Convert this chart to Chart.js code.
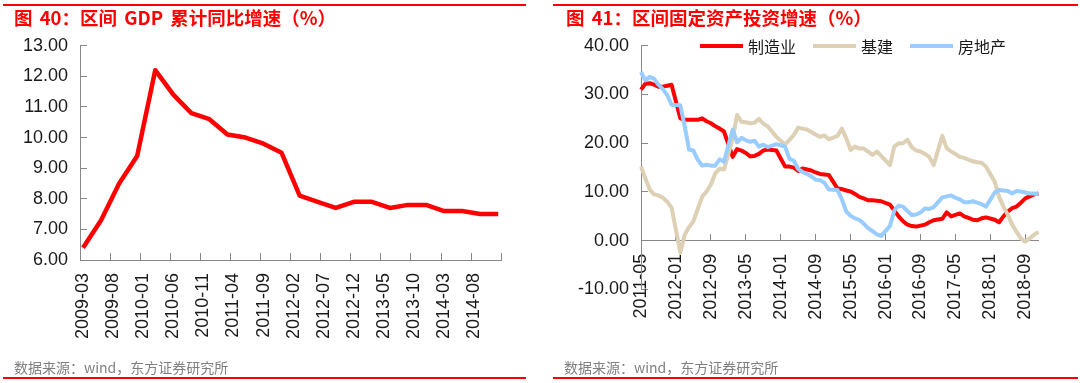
<!DOCTYPE html>
<html lang="zh-CN">
<head>
<meta charset="utf-8">
<title>区间 GDP 累计同比增速 / 区间固定资产投资增速</title>
<script src="https://cdn.jsdelivr.net/npm/chart.js@4.4.1/dist/chart.umd.min.js"></script>
<style>
  body { margin: 0; background: #fff; }
  #lienzo { position: relative; width: 1080px; height: 383px; overflow: hidden; }
  .panel { position: absolute; top: 0; width: 540px; height: 383px; }
  .panel canvas { position: absolute; left: 0; top: 0; }
  .raya { position: absolute; height: 2px; background: #ff0000; }
  .titulo { position: absolute; top: 7px; margin: 0; font: bold 18.5px/20px "Noto Sans CJK SC", sans-serif; word-spacing: 3px; color: #ff0000; white-space: nowrap; }
  .fuente { position: absolute; top: 359px; margin: 0; font: 14px/16px "Noto Sans CJK SC", sans-serif; color: #808080; white-space: nowrap; }
  .leyenda { position: absolute; top: 36px; display: flex; align-items: center; font: 16px/20px "Noto Sans CJK SC", sans-serif; color: #1a1a1a; white-space: nowrap; }
  .leyenda .linea { display: inline-block; width: 43px; height: 4px; margin-right: 5px; }
  .leyenda .texto { margin-right: 17px; }
</style>
</head>
<body>
<div id="lienzo">
  <div class="panel" style="left:0">
    <canvas id="grafica_gdp" width="540" height="383"></canvas>
    <div class="raya" style="left:3px; width:523px; top:4px"></div>
    <p class="titulo" style="left:14px">图 40：区间 GDP 累计同比增速（%）</p>
    <p class="fuente" style="left:14px">数据来源：wind，东方证券研究所</p>
    <div class="raya" style="left:3px; width:523px; top:377px"></div>
  </div>
  <div class="panel" style="left:540px">
    <canvas id="grafica_fai" width="540" height="383"></canvas>
    <div class="raya" style="left:13px; width:525px; top:4px"></div>
    <p class="titulo" style="left:26px">图 41：区间固定资产投资增速（%）</p>
    <div class="leyenda" id="leyenda_fai" style="left:160px"></div>
    <p class="fuente" style="left:24px">数据来源：wind，东方证券研究所</p>
    <div class="raya" style="left:13px; width:525px; top:377px"></div>
  </div>
</div>
<script>
// 图40 GDP 累计同比（季度）
let gdpFechas = ['2009-03','2009-06','2009-09','2009-12','2010-03','2010-06','2010-09','2010-12',
  '2011-03','2011-06','2011-09','2011-12','2012-03','2012-06','2012-09','2012-12',
  '2013-03','2013-06','2013-09','2013-12','2014-03','2014-06','2014-09','2014-12'];
let gdpValores = [6.4, 7.3, 8.5, 9.4, 12.2, 11.4, 10.8, 10.6,
  10.1, 10.0, 9.8, 9.5, 8.1, 7.9, 7.7, 7.9,
  7.9, 7.7, 7.8, 7.8, 7.6, 7.6, 7.5, 7.5];
let gdpTicks = ['2009-03','2009-08','2010-01','2010-06','2010-11','2011-04','2011-09',
  '2012-02','2012-07','2012-12','2013-05','2013-10','2014-03','2014-08'];

// 图41 固定资产投资累计同比（月度，无1月数据）
let faiNombres = ['制造业', '基建', '房地产'];
let faiColores = ['#ff0000', '#ddd0b4', '#99ccff'];
let faiManufactura = [
  31.0, 32.2, 32.3, 32.0, 31.6, 31.6, 31.8, 32.0,
  25.1, 24.8, 24.8, 24.8, 24.8, 25.1, 24.5, 24.1, 23.5, 23.0, 22.4,
  17.2, 18.8, 18.5, 18.0, 17.3, 17.4, 17.8, 18.5, 18.7, 18.6, 18.5,
  15.2, 15.2, 15.0, 14.3, 14.8, 14.6, 14.4, 14.0, 13.7, 13.6, 13.5,
  10.7, 10.6, 10.3, 10.1, 9.6, 9.0, 8.7, 8.3, 8.3, 8.2, 8.1,
  7.4, 6.2, 5.0, 4.0, 3.3, 3.0, 2.9, 3.1, 3.3, 3.8, 4.2,
  4.5, 5.8, 5.0, 5.3, 5.6, 5.0, 4.7, 4.3, 4.2, 4.6, 4.8,
  4.3, 3.8, 5.0, 6.0, 6.7, 7.0, 7.8, 8.7, 9.1, 9.5, 9.7];
let faiBase = [
  15.2, 12.8, 10.5, 9.5, 9.3, 8.8, 8.0, 6.8,
  -2.4, 1.2, 2.8, 4.0, 6.5, 9.0, 10.1, 11.5, 13.8, 14.8, 14.6,
  21.0, 25.8, 24.4, 24.3, 24.1, 24.2, 25.0, 24.0, 23.5, 22.4, 21.3,
  19.7, 20.7, 21.7, 23.2, 23.0, 22.8, 22.3, 21.8, 21.3, 21.6, 20.8,
  21.5, 23.0, 21.0, 18.6, 19.3, 18.9, 18.9, 18.3, 17.6, 18.3, 17.4,
  15.5, 19.3, 20.0, 20.0, 20.7, 19.2, 18.5, 18.3, 17.8, 17.2, 15.5,
  21.5, 19.0, 18.3, 17.8, 17.2, 17.0, 16.6, 16.3, 16.1, 16.0, 15.2,
  12.1, 9.0, 7.0, 5.3, 3.3, 1.8, 0.5, -0.2, 0.5, 1.2, 1.8];
let faiInmobiliario = [
  34.6, 32.9, 33.6, 33.2, 32.0, 31.1, 29.9, 27.9,
  27.8, 23.5, 18.7, 18.5, 16.6, 15.4, 15.6, 15.4, 15.4, 16.7, 16.2,
  22.8, 20.2, 21.1, 20.6, 20.3, 20.5, 19.3, 19.7, 19.2, 19.5, 19.8,
  19.3, 16.8, 16.4, 14.7, 14.1, 13.7, 13.2, 12.5, 12.4, 11.9, 10.5,
  10.4, 8.5, 6.0, 5.1, 4.6, 4.3, 3.5, 2.6, 2.0, 1.3, 1.0,
  3.0, 6.2, 7.2, 7.0, 6.1, 5.3, 5.4, 5.8, 6.6, 6.5, 6.9,
  8.9, 9.1, 9.3, 8.8, 8.5, 7.9, 7.9, 8.1, 7.8, 7.5, 7.0,
  9.9, 10.4, 10.3, 10.2, 9.7, 10.2, 10.1, 9.9, 9.7, 9.7, 9.5];
let faiTicks = ['2011-05','2012-01','2012-09','2013-05','2014-01','2014-09',
  '2015-05','2016-01','2016-09','2017-05','2018-01','2018-09'];

function listaMeses(desde, hasta, sinEnero) {
  let [a, m] = desde.split('-').map(Number);
  let [a2, m2] = hasta.split('-').map(Number);
  let lista = [];
  while (a < a2 || (a === a2 && m <= m2)) {
    if (!(sinEnero && m === 1)) lista.push(a + '-' + String(m).padStart(2, '0'));
    m++;
    if (m > 12) { m = 1; a++; }
  }
  return lista;
}

const ejeColor = '#888888';
const nada = 'rgba(0,0,0,0)';
Chart.defaults.font.family = '"Liberation Sans", Arial, sans-serif';
Chart.defaults.font.size = 18;
Chart.defaults.color = '#1a1a1a';

let mesesGdp = listaMeses('2009-03', '2014-12', false);
new Chart(document.getElementById('grafica_gdp'), {
  type: 'line',
  data: {
    labels: mesesGdp,
    datasets: [{
      label: '区间 GDP 累计同比增速',
      data: gdpFechas.map((f, i) => ({ x: f, y: gdpValores[i] })),
      borderColor: '#ff0000',
      backgroundColor: '#ff0000',
      borderWidth: 4.5,
      borderJoinStyle: 'round',
      pointRadius: 0,
      tension: 0
    }]
  },
  options: {
    responsive: false,
    animation: false,
    layout: { padding: { top: 45.7, right: 20.7, left: 0, bottom: 0 } },
    plugins: { legend: { display: false }, tooltip: { enabled: false } },
    scales: {
      x: {
        type: 'category',
        offset: true,
        grid: {
          offset: true,
          drawOnChartArea: false,
          tickLength: -7,
          tickColor: c => (c.index === undefined || gdpTicks.includes(mesesGdp[c.index])) ? ejeColor : nada
        },
        border: { color: ejeColor, width: 1 },
        ticks: {
          autoSkip: false, minRotation: 90, maxRotation: 90, padding: 20,
          callback: (v, i) => gdpTicks.includes(mesesGdp[i]) ? mesesGdp[i] : ''
        },
        afterFit: s => { s.height = 123; }
      },
      y: {
        min: 6, max: 13,
        grid: { drawOnChartArea: false, tickLength: -7, tickColor: ejeColor },
        border: { color: ejeColor, width: 1 },
        ticks: { stepSize: 1, padding: 19, callback: v => v.toFixed(2) },
        afterFit: s => { s.width = 80; }
      }
    }
  }
});

let mesesFai = listaMeses('2011-05', '2018-12', false);
let fechasFai = listaMeses('2011-05', '2018-12', true);
let seriesFai = [faiManufactura, faiBase, faiInmobiliario];
// el eje x va anclado en y = 0, no reserva alto: el fondo del área se fija con el padding
new Chart(document.getElementById('grafica_fai'), {
  type: 'line',
  data: {
    labels: mesesFai,
    datasets: seriesFai.map((serie, k) => ({
      label: faiNombres[k],
      data: fechasFai.map((f, i) => ({ x: f, y: serie[i] })),
      borderColor: faiColores[k],
      backgroundColor: faiColores[k],
      borderWidth: 4,
      borderJoinStyle: 'round',
      pointRadius: 0,
      tension: 0,
      order: 3 - k
    }))
  },
  options: {
    responsive: false,
    animation: false,
    layout: { padding: { top: 45.7, right: 21.5, left: 0, bottom: 93.5 } },
    plugins: { legend: { display: false }, tooltip: { enabled: false } },
    scales: {
      x: {
        type: 'category',
        position: { y: 0 },
        offset: false,
        grid: {
          offset: false,
          drawOnChartArea: false,
          tickLength: -7,
          tickColor: c => (c.index !== undefined && faiTicks.includes(mesesFai[c.index])) ? ejeColor : nada
        },
        border: { color: ejeColor, width: 1 },
        ticks: {
          autoSkip: false, minRotation: 90, maxRotation: 90, padding: 20,
          callback: (v, i) => faiTicks.includes(mesesFai[i]) ? mesesFai[i] : ''
        }
      },
      y: {
        min: -10, max: 40,
        grid: { drawOnChartArea: false, tickLength: -7, tickColor: ejeColor },
        border: { color: ejeColor, width: 1 },
        ticks: { stepSize: 10, padding: 19, callback: v => v.toFixed(2) },
        afterFit: s => { s.width = 101; }
      }
    }
  }
});

// leyenda de la segunda gráfica
let leyenda = document.getElementById('leyenda_fai');
faiNombres.forEach((nombre, k) => {
  let linea = document.createElement('span');
  linea.className = 'linea';
  linea.style.background = faiColores[k];
  let texto = document.createElement('span');
  texto.className = 'texto';
  texto.textContent = nombre;
  leyenda.appendChild(linea);
  leyenda.appendChild(texto);
});
</script>
</body>
</html>
